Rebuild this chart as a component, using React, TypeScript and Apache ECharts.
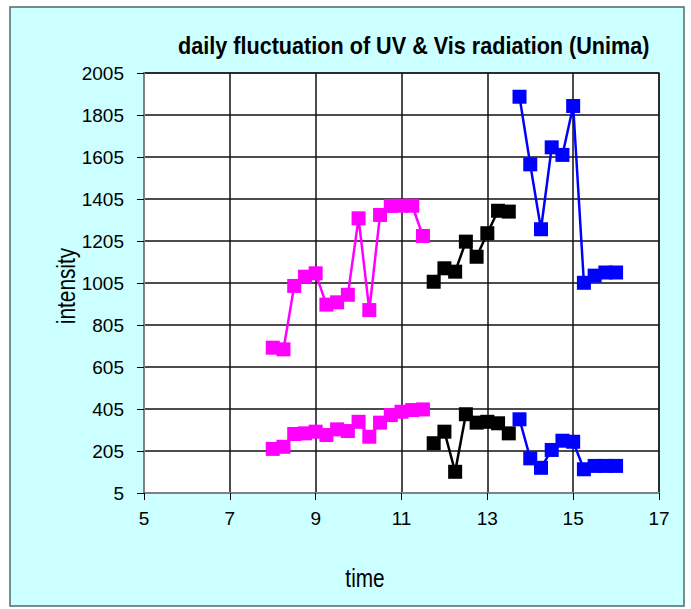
import React, { useEffect, useRef } from "react";
import * as echarts from "echarts";

// time of day (hours)
const morningTimes = [8, 8.25, 8.5, 8.75, 9, 9.25, 9.5, 9.75, 10, 10.25, 10.5, 10.75, 11, 11.25, 11.5];
const middayTimes = [11.75, 12, 12.25, 12.5, 12.75, 13, 13.25, 13.5];
const afternoonTimes = [13.75, 14, 14.25, 14.5, 14.75, 15, 15.25, 15.5, 15.75, 16];

// upper curves (Vis) and lower curves (UV)
const morningVis = [697, 689, 991, 1035, 1051, 902, 913, 949, 1313, 876, 1329, 1372, 1373, 1373, 1229];
const morningUV = [215, 225, 286, 289, 297, 281, 308, 300, 344, 273, 340, 376, 392, 400, 403];
const middayVis = [1011, 1075, 1059, 1202, 1130, 1242, 1349, 1345];
const middayUV = [242, 297, 106, 380, 340, 344, 337, 289];
const afternoonVis = [1892, 1570, 1261, 1651, 1615, 1848, 1006, 1040, 1055, 1055];
const afternoonUV = [356, 170, 125, 210, 254, 249, 118, 134, 134, 134];

const yTicks = [5, 205, 405, 605, 805, 1005, 1205, 1405, 1605, 1805, 2005];
const xTicks = [5, 7, 9, 11, 13, 15, 17];

const titleText = "daily fluctuation of UV & Vis radiation (Unima)";
const xName = "time";
const yName = "intensity";

const SANS = "'Liberation Sans', Arial, sans-serif";

function pairs(xs: number[], ys: number[]) {
  return xs.map((x, i) => [x, ys[i]]);
}

function mkSeries(name: string, xs: number[], ys: number[], color: string) {
  return {
    name,
    type: "line",
    data: pairs(xs, ys),
    symbol: "rect",
    symbolSize: 14,
    itemStyle: { color },
    lineStyle: { color, width: 2.5 },
    z: 3,
  };
}

export default function App() {
  const ref = useRef<HTMLDivElement>(null);
  useEffect(() => {
    document.body.style.margin = "0";
    const chart = echarts.init(ref.current!, null, { renderer: "svg" });
    chart.setOption({
      animation: false,
      backgroundColor: "#ffffff",
      graphic: [
        {
          type: "rect",
          shape: { x: 10, y: 7, width: 674, height: 599 },
          style: { fill: "#CCFFFF", stroke: "#4f6a6a", lineWidth: 1.5 },
          z: -10,
          silent: true,
        },
        {
          type: "text",
          x: 178,
          y: 46,
          scaleX: 0.94,
          style: {
            text: titleText,
            font: "bold 23px " + SANS,
            fill: "#000",
            verticalAlign: "middle",
            align: "left",
          },
        },
        {
          type: "text",
          x: 365,
          y: 578,
          scaleX: 0.8,
          style: {
            text: xName,
            font: "26px " + SANS,
            fill: "#000",
            align: "center",
            verticalAlign: "middle",
          },
        },
        {
          type: "text",
          x: 66,
          y: 286,
          rotation: Math.PI / 2,
          scaleX: 0.8,
          style: {
            text: yName,
            font: "26px " + SANS,
            fill: "#000",
            align: "center",
            verticalAlign: "middle",
          },
        },
      ],
      grid: {
        left: 144,
        top: 73,
        width: 515,
        height: 420,
        show: true,
        backgroundColor: "#ffffff",
        borderColor: "#808080",
        borderWidth: 2,
      },
      xAxis: {
        type: "value",
        min: 5,
        max: 17,
        axisLine: { show: true, lineStyle: { color: "#808080", width: 2 } },
        axisTick: { show: true, length: 7, customValues: xTicks, lineStyle: { color: "#000", width: 1 } },
        axisLabel: {
          customValues: xTicks,
          formatter: (v: number) => String(v),
          margin: 16,
          color: "#000",
          fontFamily: SANS,
          fontSize: 19,
        },
        splitLine: { show: true, lineStyle: { color: "#111", width: 1.5 } },
      },
      yAxis: {
        type: "value",
        min: 5,
        max: 2005,
        axisLine: { show: true, lineStyle: { color: "#808080", width: 2 } },
        axisTick: { show: true, length: 7, customValues: yTicks, lineStyle: { color: "#000", width: 1 } },
        axisLabel: {
          customValues: yTicks,
          formatter: (v: number) => String(v),
          margin: 20,
          color: "#000",
          fontFamily: SANS,
          fontSize: 19,
        },
        splitLine: { show: true, lineStyle: { color: "#111", width: 1.5 } },
      },
      series: [
        mkSeries("Vis morning", morningTimes, morningVis, "#FF00FF"),
        mkSeries("UV morning", morningTimes, morningUV, "#FF00FF"),
        mkSeries("Vis midday", middayTimes, middayVis, "#000000"),
        mkSeries("UV midday", middayTimes, middayUV, "#000000"),
        mkSeries("Vis afternoon", afternoonTimes, afternoonVis, "#0000FF"),
        mkSeries("UV afternoon", afternoonTimes, afternoonUV, "#0000FF"),
      ],
    });
    return () => chart.dispose();
  }, []);
  return <div ref={ref} style={{ width: 691, height: 609 }} />;
}
